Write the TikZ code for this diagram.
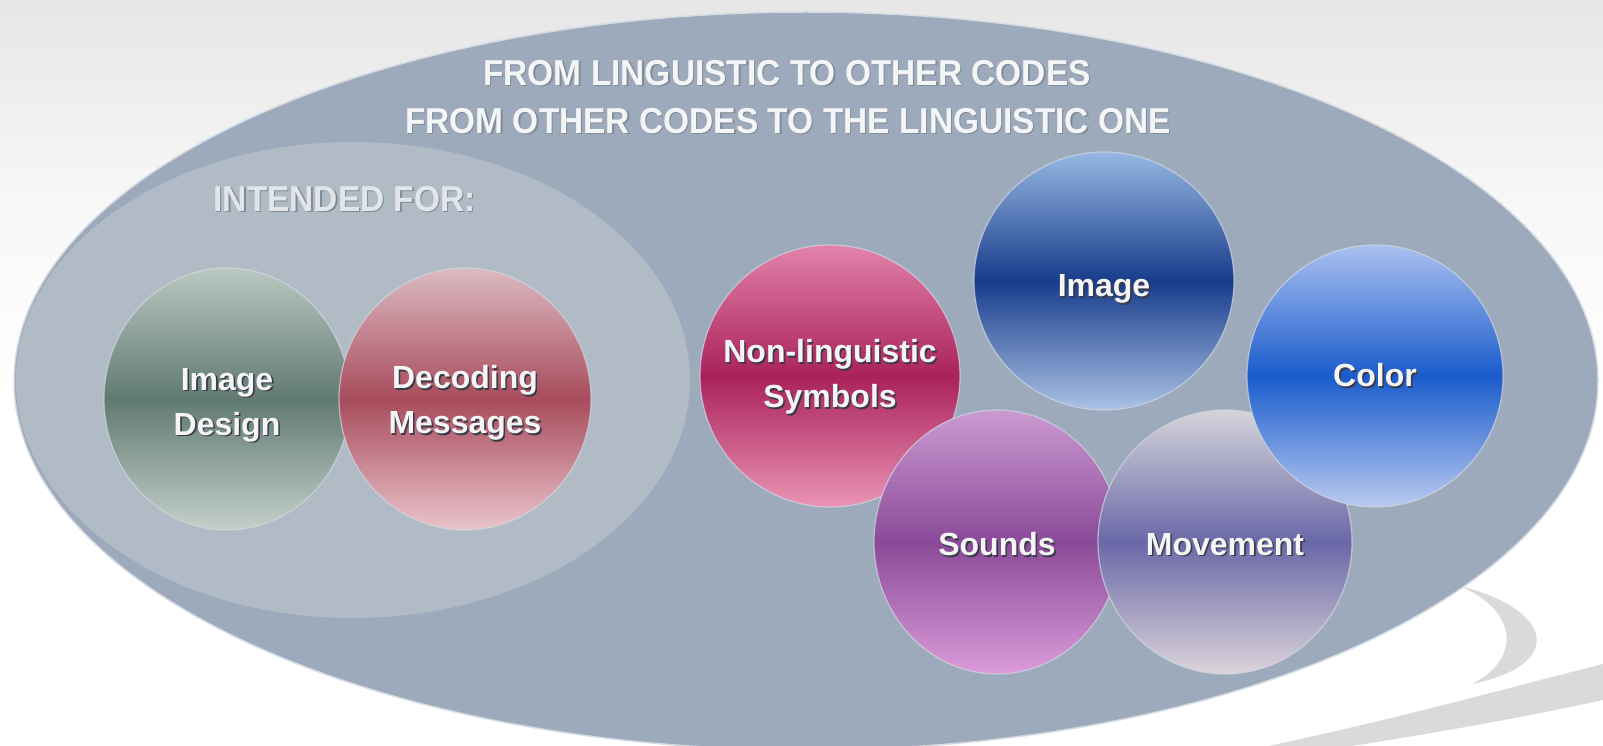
\documentclass[tikz,border=0pt]{standalone}
\usepackage{fontspec}
\usetikzlibrary{shapes.geometric}
\newfontfamily\headfont[FakeStretch=0.93]{Liberation Sans}
\newfontfamily\bubblefont{Liberation Sans}

\definecolor{bgtop}{HTML}{E6E6E6}
\definecolor{outerfill}{HTML}{9DAABB}
\definecolor{innerfill}{HTML}{B0BBC6}
\definecolor{outerrim}{HTML}{D4DBE3}
\definecolor{swoosh}{HTML}{DADADA}
\definecolor{textshadow}{HTML}{3A3A48}
\definecolor{headshadow}{HTML}{808B98}
\definecolor{headtext}{HTML}{F3F5F7}
\definecolor{subtext}{HTML}{E2E6EA}
\definecolor{bubblerim}{HTML}{D2D9E0}

% text with a small dark drop shadow behind it
\newcommand\shd[1]{\makebox[0pt][l]{\hspace*{1.6pt}\raisebox{-1.6pt}{\textcolor{textshadow}{#1}}}#1}
\newcommand\hshd[1]{\makebox[0pt][l]{\hspace*{1.2pt}\raisebox{-1.2pt}{\textcolor{headshadow}{#1}}}#1}

\tikzset{
  bubble/.style={ellipse, inner sep=0pt, draw=bubblerim, draw opacity=0.7, line width=1.2pt},
  bubbletext/.style={font=\bubblefont\bfseries\fontsize{32}{45}\selectfont,
    text=white!96!black, align=center, inner sep=0pt},
  headline/.style={font=\headfont\bfseries\fontsize{36}{44}\selectfont, text=headtext, align=center},
}

\begin{document}
\begin{tikzpicture}[x=1pt, y=-1pt]
  \useasboundingbox (0,0) rectangle (1603,746);
  % page background
  \shade[top color=bgtop, bottom color=white, middle color=white!97!black]
    (0,0) rectangle (1603,400);
  \fill[white] (0,400) rectangle (1603,746);

  % grey swooshes in the lower right corner
  \fill[swoosh] (1460,586) .. controls (1555,610) and (1565,665) .. (1472,684)
    .. controls (1520,660) and (1520,612) .. (1460,586) -- cycle;
  \fill[swoosh] (1268,746) .. controls (1400,718) and (1500,690) .. (1603,664)
    -- (1603,700) .. controls (1520,718) and (1440,732) .. (1352,746) -- cycle;

  % large outer ellipse and the lighter inner one
  \fill[outerfill, draw=outerrim, line width=1.5pt] (806,381) ellipse [x radius=792, y radius=369];
  \fill[innerfill] (353,380) ellipse [x radius=337, y radius=238];

  % headings
  \node[headline] (head1) at (787,74) {\hshd{FROM LINGUISTIC TO OTHER CODES}};
  \node[headline] (head2) at (788,122) {\hshd{FROM OTHER CODES TO THE LINGUISTIC ONE}};
  \node[headline, text=subtext, anchor=west] (intended) at (210,200) {\hshd{INTENDED FOR:}};

  % left group
  \node[bubble, minimum width=246pt, minimum height=262pt,
        top color={rgb,255:red,186;green,200;blue,194}, bottom color={rgb,255:red,196;green,208;blue,202},
        middle color={rgb,255:red,96;green,122;blue,114},
        label={[bubbletext, yshift=-7pt]center:{\shd{Image}\\\shd{Design}}}]
        (design) at (227,399) {};
  \node[bubble, minimum width=252pt, minimum height=262pt,
        top color={rgb,255:red,220;green,186;blue,194}, bottom color={rgb,255:red,234;green,196;blue,204},
        middle color={rgb,255:red,168;green,76;blue,92},
        label={[bubbletext, yshift=-5pt]center:{\shd{Decoding}\\\shd{Messages}}}]
        (decoding) at (465,399) {};

  % right group
  \node[bubble, minimum width=260pt, minimum height=262pt,
        top color={rgb,255:red,226;green,130;blue,170}, bottom color={rgb,255:red,234;green,148;blue,180},
        middle color={rgb,255:red,170;green,34;blue,92},
        label={[bubbletext, yshift=-2pt]center:{\shd{Non-linguistic}\\\shd{Symbols}}}]
        (symbols) at (830,376) {};
  \node[bubble, minimum width=260pt, minimum height=258pt,
        top color={rgb,255:red,150;green,184;blue,226}, bottom color={rgb,255:red,170;green,194;blue,228},
        middle color={rgb,255:red,24;green,60;blue,140},
        label={[bubbletext, yshift=-9pt]center:{\shd{Image}}}]
        (image) at (1104,281) {};
  \node[bubble, minimum width=246pt, minimum height=264pt,
        top color={rgb,255:red,204;green,154;blue,210}, bottom color={rgb,255:red,220;green,156;blue,218},
        middle color={rgb,255:red,138;green,74;blue,152},
        label={[bubbletext, yshift=-3pt]center:{\shd{Sounds}}}]
        (sounds) at (997,542) {};
  \node[bubble, minimum width=254pt, minimum height=264pt,
        top color={rgb,255:red,212;green,212;blue,218}, bottom color={rgb,255:red,220;green,212;blue,218},
        middle color={rgb,255:red,106;green,104;blue,168},
        label={[bubbletext, yshift=-3pt]center:{\shd{Movement}}}]
        (movement) at (1225,542) {};
  \node[bubble, minimum width=256pt, minimum height=262pt,
        top color={rgb,255:red,170;green,192;blue,240}, bottom color={rgb,255:red,186;green,202;blue,240},
        middle color={rgb,255:red,26;green,92;blue,204},
        label={[bubbletext]center:{\shd{Color}}}]
        (color) at (1375,376) {};
\end{tikzpicture}
\end{document}
